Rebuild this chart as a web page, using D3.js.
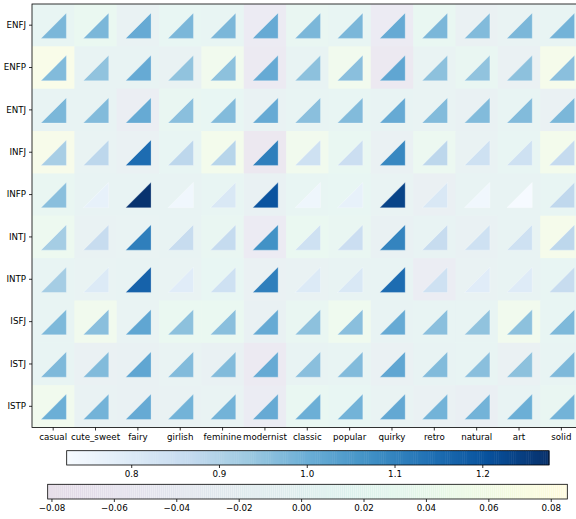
<!DOCTYPE html>
<html>
<head>
<meta charset="utf-8">
<script src="https://cdn.jsdelivr.net/npm/d3@7"></script>
<style>
  body { margin: 0; background: #fff; }
  text { font-family: "DejaVu Sans", sans-serif; font-size: 8.7px; fill: #000; }
</style>
</head>
<body>
<div id="chart"></div>
<script>
// categories
const rows = ["ENFJ", "ENFP", "ENTJ", "INFJ", "INFP", "INTJ", "INTP", "ISFJ", "ISTJ", "ISTP"];
const cols = ["casual", "cute_sweet", "fairy", "girlish", "feminine", "modernist", "classic",
  "popular", "quirky", "retro", "natural", "art", "solid"];

// triangle values (Blues)
const triValues = [
  [0.98, 0.98, 1.01, 0.98, 0.98, 1.01, 0.98, 0.98, 1.01, 0.98, 0.97, 0.98, 0.99],
  [0.97, 0.95, 1.01, 0.95, 0.955, 1.01, 0.955, 0.96, 1.02, 0.955, 0.95, 0.955, 0.96],
  [0.98, 0.97, 1.01, 0.96, 0.97, 1.01, 0.96, 0.97, 1.01, 0.97, 0.97, 0.97, 0.98],
  [0.915, 0.88, 1.15, 0.88, 0.89, 1.11, 0.84, 0.85, 1.09, 0.88, 0.84, 0.84, 0.865],
  [0.96, 0.77, 1.27, 0.745, 0.81, 1.20, 0.75, 0.77, 1.235, 0.81, 0.745, 0.73, 0.875],
  [0.92, 0.86, 1.11, 0.86, 0.865, 1.07, 0.84, 0.85, 1.10, 0.86, 0.84, 0.84, 0.88],
  [0.92, 0.80, 1.17, 0.79, 0.84, 1.11, 0.80, 0.81, 1.15, 0.84, 0.79, 0.795, 0.86],
  [0.975, 0.96, 1.02, 0.955, 0.96, 1.01, 0.955, 0.96, 1.01, 0.96, 0.95, 0.955, 0.975],
  [0.975, 0.97, 1.02, 0.97, 0.97, 1.01, 0.96, 0.97, 1.02, 0.97, 0.96, 0.955, 0.975],
  [1.00, 0.99, 1.01, 0.99, 0.99, 1.01, 1.00, 0.99, 1.015, 0.99, 0.99, 1.00, 0.99]
];

// background values (viridis, faint)
const bgValues = [
  [0.01, 0.03, -0.01, 0.015, 0.01, -0.05, 0.02, 0.01, -0.05, 0.025, -0.02, -0.005, 0.005],
  [0.07, 0.0, 0.0, -0.01, 0.05, -0.06, 0.0, 0.05, -0.065, -0.005, 0.02, -0.02, 0.06],
  [0.0, 0.0, -0.035, 0.02, 0.015, -0.01, 0.005, 0.01, 0.0, -0.005, -0.015, 0.005, -0.02],
  [0.065, -0.005, -0.02, 0.01, 0.055, -0.07, 0.05, 0.025, -0.02, 0.035, -0.01, 0.01, 0.055],
  [0.02, 0.0, 0.0, 0.0, 0.01, -0.015, 0.01, 0.015, -0.005, -0.025, 0.0, 0.0, 0.01],
  [0.04, -0.01, -0.005, 0.0, 0.02, -0.05, 0.03, 0.02, -0.015, 0.0, -0.015, 0.0, 0.06],
  [0.005, -0.005, 0.0, -0.005, 0.015, -0.02, -0.01, 0.0, 0.0, -0.04, -0.01, 0.0, 0.01],
  [0.005, 0.05, -0.005, 0.03, 0.03, -0.015, 0.02, 0.045, 0.0, 0.005, 0.005, 0.05, 0.01],
  [0.005, -0.02, -0.015, -0.005, -0.015, -0.06, 0.0, 0.005, -0.02, 0.0, 0.005, -0.02, 0.005],
  [0.05, -0.01, -0.015, -0.01, -0.005, -0.045, 0.025, 0.015, -0.005, -0.02, -0.03, 0.0, 0.02]
];

// colorbar ticks
const blueTicks = [0.8, 0.9, 1.0, 1.1, 1.2];
const bgTicks = [-0.08, -0.06, -0.04, -0.02, 0.0, 0.02, 0.04, 0.06, 0.08];
const blueDomain = [0.7265, 1.276];
const bgDomain = [-0.0812, 0.0853];

const W = 576, H = 519;
const PLOT = { LEFT: 32, TOP: 4, CELL: 42.35 };
const BG_ALPHA = 0.1;
const FONT = "8.7px";
const TICK = 3;

// matplotlib Blues stops
const bluesStops = ["#f7fbff", "#deebf7", "#c6dbef", "#9ecae1", "#6baed6", "#4292c6", "#2171b5", "#08519c", "#08306b"];
const bluesInterp = d3.scaleLinear()
  .domain(d3.range(9).map(i => i / 8))
  .range(bluesStops)
  .interpolate(d3.interpolateRgb);

const blueColor = d3.scaleSequential(t => bluesInterp(t)).domain(blueDomain);
const bgColor = d3.scaleSequential(d3.interpolateViridis).domain(bgDomain);

const svg = d3.select("#chart").append("svg")
  .attr("width", W)
  .attr("height", H);

const x = d3.scaleBand().domain(cols)
  .range([PLOT.LEFT, PLOT.LEFT + PLOT.CELL * cols.length]);
const y = d3.scaleBand().domain(rows)
  .range([PLOT.TOP, PLOT.TOP + PLOT.CELL * rows.length]);

const cells = [];
rows.forEach((r, i) => cols.forEach((c, j) => {
  cells.push({ r, c, tri: triValues[i][j], bg: bgValues[i][j] });
}));

// background squares
svg.append("g").selectAll("rect")
  .data(cells)
  .join("rect")
  .attr("x", d => x(d.c))
  .attr("y", d => y(d.r))
  .attr("width", x.bandwidth())
  .attr("height", y.bandwidth())
  .attr("fill", d => bgColor(d.bg))
  .attr("fill-opacity", BG_ALPHA);

// triangles
const half = 0.3 * PLOT.CELL;
svg.append("g").selectAll("path")
  .data(cells)
  .join("path")
  .attr("d", d => {
    const cx = x(d.c) + x.bandwidth() / 2 + 0.5;
    const cy = y(d.r) + y.bandwidth() / 2 + 0.5;
    return `M${cx - half},${cy + half}L${cx + half},${cy + half}L${cx + half},${cy - half}Z`;
  })
  .attr("fill", d => blueColor(d.tri))
  .attr("stroke", "#ffffff")
  .attr("stroke-opacity", 0.35)
  .attr("stroke-width", 0.8);

// axes
const xAxis = svg.append("g")
  .attr("transform", `translate(0,${PLOT.TOP + PLOT.CELL * rows.length})`)
  .call(d3.axisBottom(x).tickSize(TICK).tickPadding(3));
const yAxis = svg.append("g")
  .attr("transform", `translate(${PLOT.LEFT},0)`)
  .call(d3.axisLeft(y).tickSize(TICK).tickPadding(3));
[xAxis, yAxis].forEach(g => {
  g.selectAll("text").style("font-size", FONT).style("font-family", "DejaVu Sans, sans-serif");
  g.selectAll("line").attr("stroke", "#000").attr("stroke-width", 0.8);
  g.select(".domain").remove();
});

// spines
const x1 = PLOT.LEFT + PLOT.CELL * cols.length;
const y1 = PLOT.TOP + PLOT.CELL * rows.length;
svg.append("rect")
  .attr("x", PLOT.LEFT).attr("y", PLOT.TOP)
  .attr("width", x1 - PLOT.LEFT).attr("height", y1 - PLOT.TOP)
  .attr("fill", "none").attr("stroke", "#000").attr("stroke-width", 0.8);

// colorbar helper
function colorbar(left, right, top, height, domain, color, opacity, ticks, fmt) {
  const s = d3.scaleLinear().domain(domain).range([left, right]);
  const g = svg.append("g");
  const n = 256;
  const step = (domain[1] - domain[0]) / n;
  g.selectAll("rect.seg")
    .data(d3.range(n).map(i => domain[0] + i * step))
    .join("rect")
    .attr("class", "seg")
    .attr("x", d => s(d))
    .attr("y", top)
    .attr("width", d => s(d + step) - s(d) + 0.5)
    .attr("height", height)
    .attr("fill", d => color(d + step / 2))
    .attr("fill-opacity", opacity);
  g.append("rect")
    .attr("x", left).attr("y", top)
    .attr("width", right - left).attr("height", height)
    .attr("fill", "none").attr("stroke", "#000").attr("stroke-width", 0.8);
  const ax = svg.append("g")
    .attr("transform", `translate(0,${top + height})`)
    .call(d3.axisBottom(s).tickValues(ticks).tickFormat(fmt).tickSize(TICK).tickPadding(3));
  ax.select(".domain").remove();
  ax.selectAll("line").attr("stroke", "#000").attr("stroke-width", 0.8);
  ax.selectAll("text").style("font-size", FONT).style("font-family", "DejaVu Sans, sans-serif");
}

colorbar(66.7, 549, 450.7, 14.3, blueDomain, blueColor, 1, blueTicks, d3.format(".1f"));
colorbar(47.7, 567.3, 484.3, 14.7, bgDomain, bgColor, BG_ALPHA, bgTicks,
  d => d3.format(".2f")(d).replace("-", "\u2212"));
</script>
</body>
</html>
